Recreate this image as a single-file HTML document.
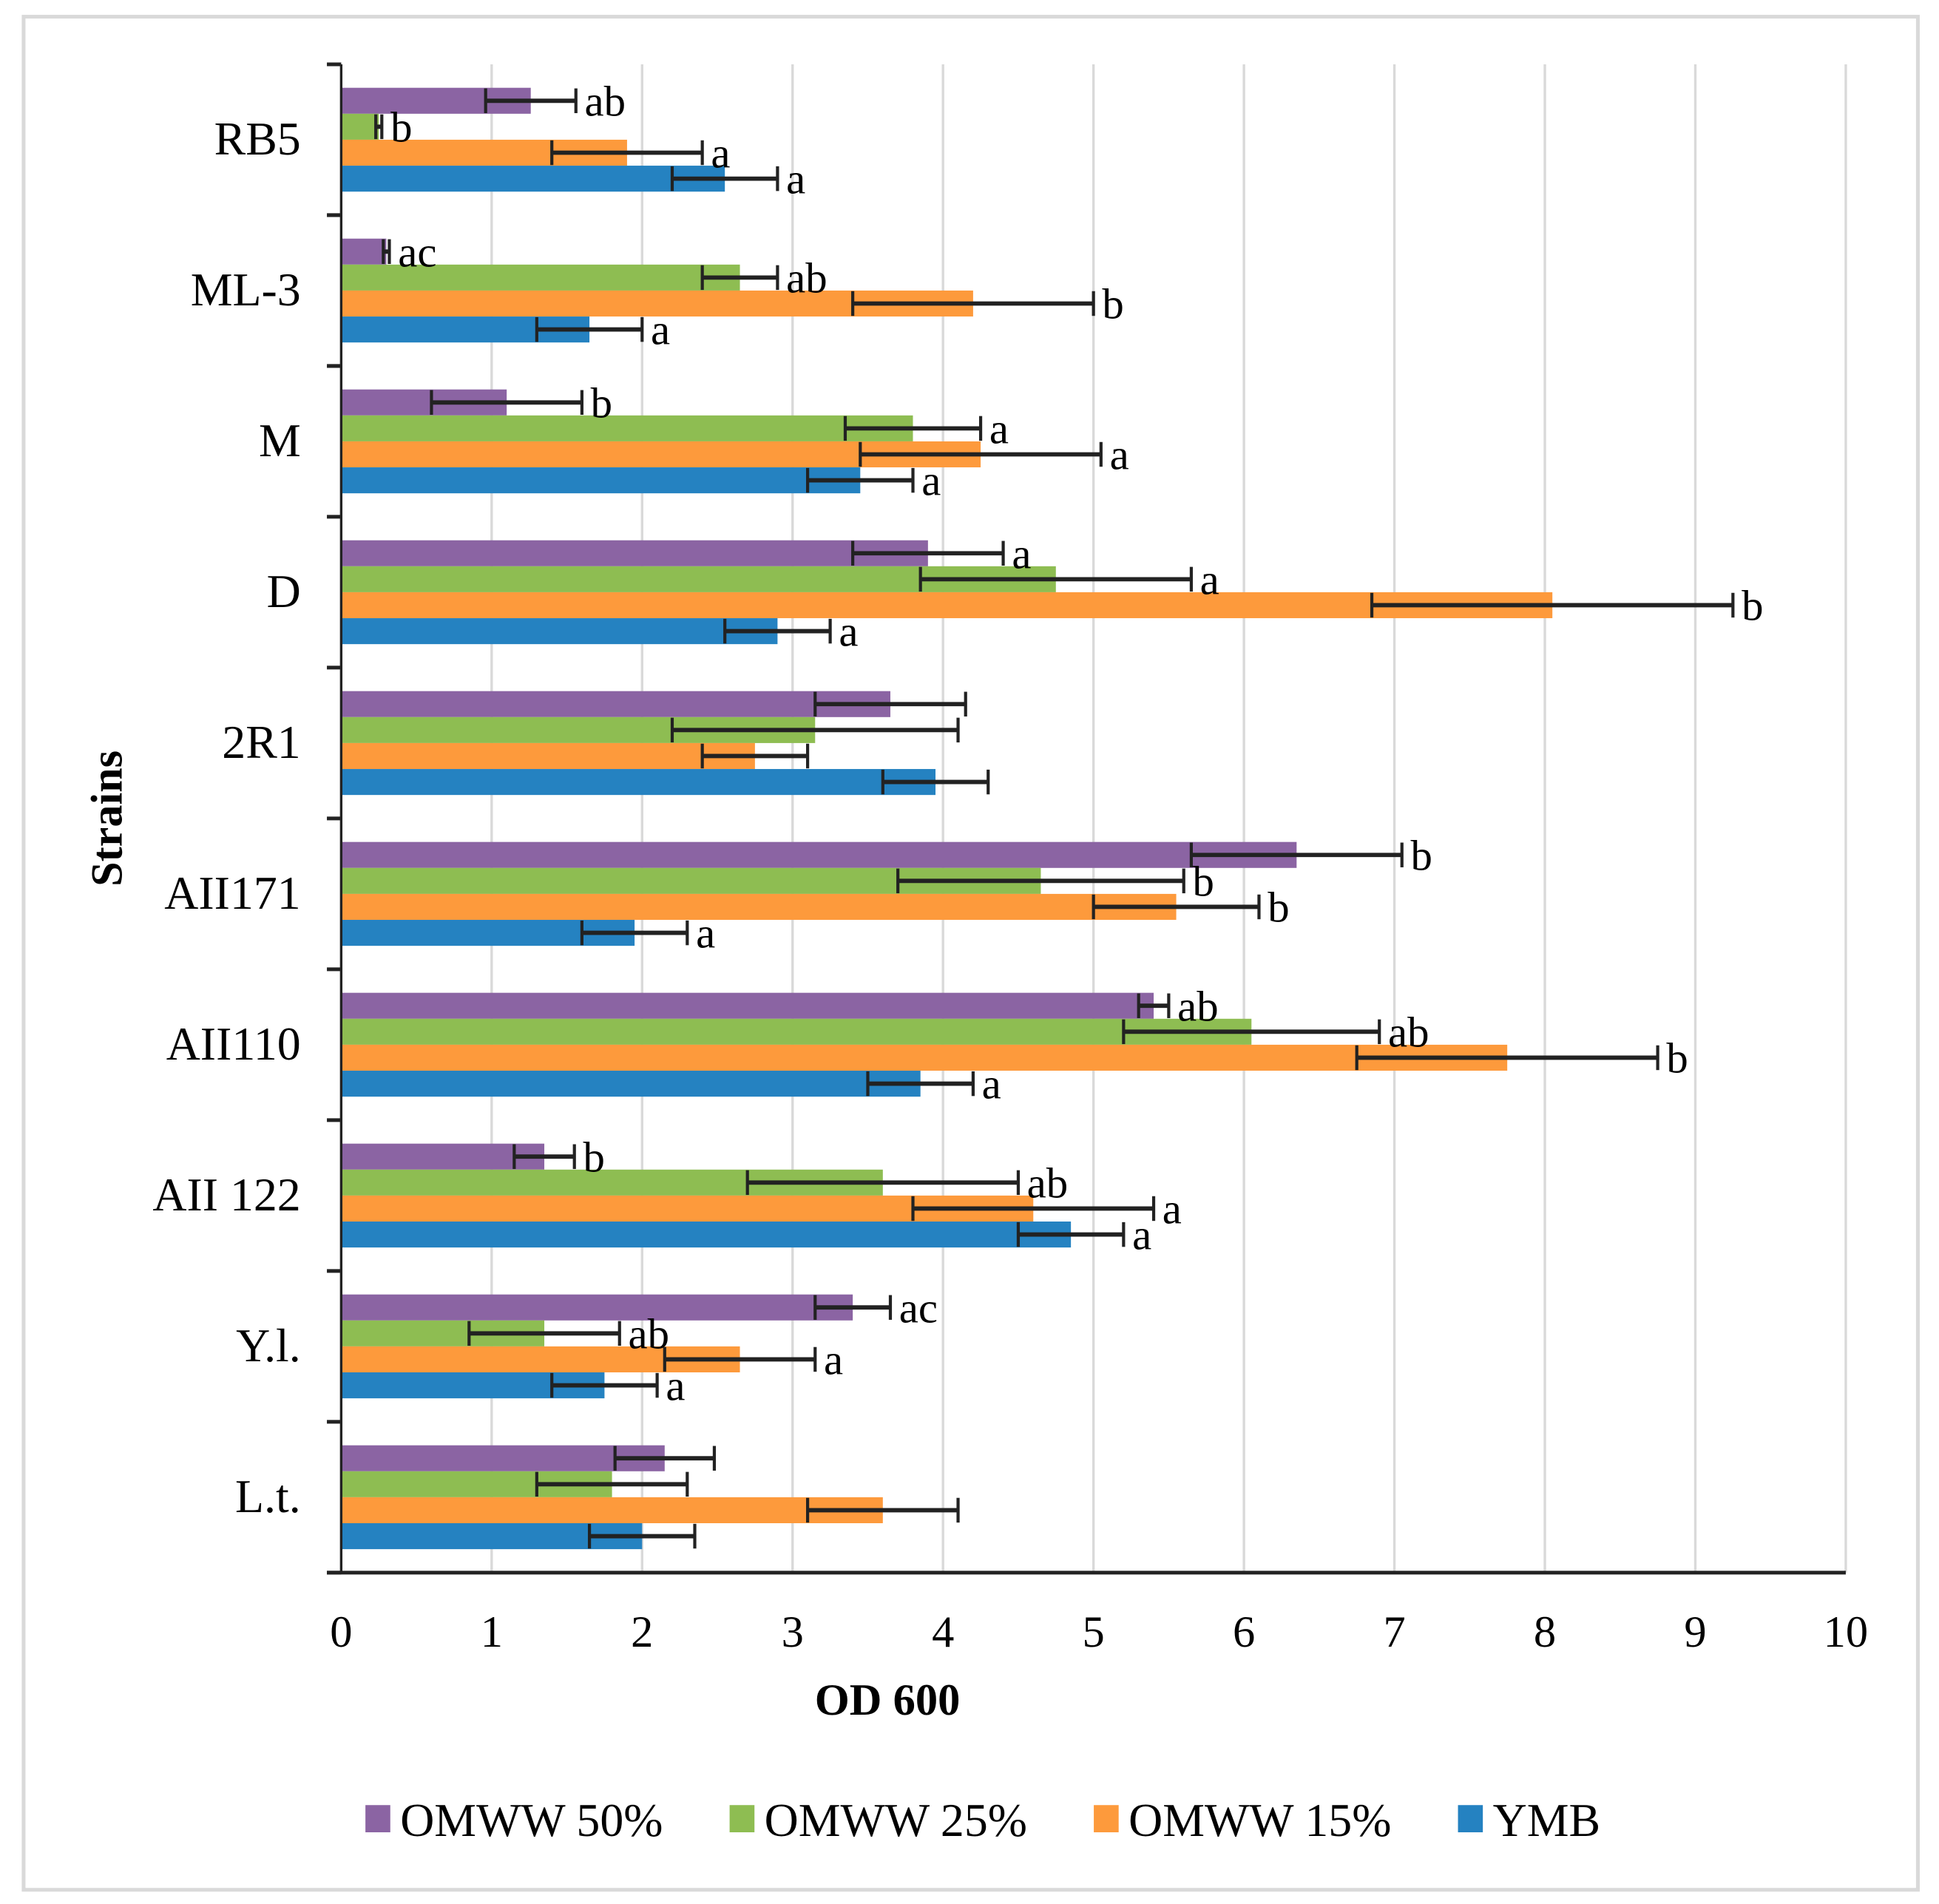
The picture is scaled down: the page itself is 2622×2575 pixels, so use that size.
<!DOCTYPE html>
<html><head><meta charset="utf-8"><style>
html,body{margin:0;padding:0;background:#fff}
svg{display:block}
text{font-family:"Liberation Serif",serif;fill:#000}
</style></head><body>
<svg id="chart" width="2622" height="2575" viewBox="0 0 1560 1540" preserveAspectRatio="none" xmlns="http://www.w3.org/2000/svg">
<rect x="19" y="13.5" width="1524" height="1515" fill="#fff" stroke="#d9d9d9" stroke-width="3"/>
<g id="grid"></g><g id="bars"></g><g id="axes"></g><g id="labels"></g>
<text x="714" y="1387" font-size="36" font-weight="bold" text-anchor="middle">OD 600</text>
<text transform="translate(98,662) rotate(-90)" font-size="36" font-weight="bold" text-anchor="middle">Strains</text>
<g id="legend"></g>
</svg>
<script>
const categories = ["RB5","ML-3","M","D","2R1","AII171","AII110","AII 122","Y.l.","L.t."];
const seriesNames = ["OMWW 50%","OMWW 25%","OMWW 15%","YMB"];
const colors = ["#8b64a3","#8ebd52","#fd9a3c","#2582c1"];
const omww50 = [1.26,0.3,1.1,3.9,3.65,6.35,5.4,1.35,3.4,2.15];
const omww50Err = [0.3,0.02,0.5,0.5,0.5,0.7,0.1,0.2,0.25,0.33];
const omww25 = [0.25,2.65,3.8,4.75,3.15,4.65,6.05,3.6,1.35,1.8];
const omww25Err = [0.02,0.25,0.45,0.9,0.95,0.95,0.85,0.9,0.5,0.5];
const omww15 = [1.9,4.2,4.25,8.05,2.75,5.55,7.75,4.6,2.65,3.6];
const omww15Err = [0.5,0.8,0.8,1.2,0.35,0.55,1.0,0.8,0.5,0.5];
const ymb = [2.55,1.65,3.45,2.9,3.95,1.95,3.85,4.85,1.75,2.0];
const ymbErr = [0.35,0.35,0.35,0.35,0.35,0.35,0.35,0.35,0.35,0.35];
const letters50 = ["ab","ac","b","a","","b","ab","b","ac",""];
const letters25 = ["b","ab","a","a","","b","ab","ab","ab",""];
const letters15 = ["a","b","a","b","","b","b","a","a",""];
const lettersYmb = ["a","a","a","a","","a","a","a","a",""];
const xTicks = [0,1,2,3,4,5,6,7,8,9,10];

const NS="http://www.w3.org/2000/svg";
const X0=274.5,X1=1485,Y0=52,Y1=1272,xMax=10;
const band=(Y1-Y0)/categories.length, barH=21, pad=(band-4*barH)/2;
const xs=v=>X0+(X1-X0)*v/xMax;
function mk(tag,attrs,parent){const e=document.createElementNS(NS,tag);for(const k in attrs)e.setAttribute(k,attrs[k]);parent.appendChild(e);return e;}
const g=id=>document.getElementById(id);
xTicks.forEach(t=>{
  if(t>0){const l=mk('line',{x1:xs(t),x2:xs(t),y1:Y0,y2:Y1,stroke:'#d9d9d9','stroke-width':2},g('grid'));
  
  }
  const tx=mk('text',{x:xs(t),y:1332,'font-size':36,'text-anchor':'middle'},g('axes'));
  tx.textContent=t;
  
  
});
const vals=[omww50,omww25,omww15,ymb], errs=[omww50Err,omww25Err,omww15Err,ymbErr], lets=[letters50,letters25,letters15,lettersYmb];
categories.forEach((c,i)=>{
  const top=Y0+i*band;
  const cl=mk('text',{x:242,y:top+band/2+12,'font-size':38,'text-anchor':'end'},g('axes'));
  cl.textContent=c;
  
  
  for(let s=0;s<4;s++){
    const y=top+pad+s*barH, v=vals[s][i], e=errs[s][i], cy=y+barH/2;
    const r=mk('rect',{x:X0,y:y,width:xs(v)-X0,height:barH,fill:colors[s]},g('bars'));
    
    
    const eg=mk('g',{stroke:'#222','stroke-width':3.5},g('bars'));
    
    
    mk('line',{x1:xs(v-e),x2:xs(v+e),y1:cy,y2:cy},eg);
    mk('line',{x1:xs(v-e),x2:xs(v-e),y1:cy-10,y2:cy+10,'stroke-width':2.5},eg);
    mk('line',{x1:xs(v+e),x2:xs(v+e),y1:cy-10,y2:cy+10,'stroke-width':2.5},eg);
    if(lets[s][i]){
      const lt=mk('text',{x:xs(v+e)+7,y:cy+12,'font-size':35},g('labels'));
      lt.textContent=lets[s][i];
      
      
    }
  }
});
for(let i=0;i<=categories.length;i++){
  const y=Y0+i*band;
  mk('line',{x1:263,x2:X0,y1:y,y2:y,stroke:'#222','stroke-width':3},g('axes'));
}
const ya=mk('line',{x1:X0,x2:X0,y1:Y0,y2:Y1,stroke:'#222','stroke-width':2},g('axes'));


const xa=mk('line',{x1:263,x2:X1,y1:Y1,y2:Y1,stroke:'#222','stroke-width':3},g('axes'));


const lx=[294,587,880,1173];
seriesNames.forEach((n,s)=>{
  const eg=mk('g',{},g('legend'));
  
  
  mk('rect',{x:lx[s],y:1460,width:20,height:22,fill:colors[s]},eg);
  const t=mk('text',{x:lx[s]+28,y:1485,'font-size':38},eg);
  t.textContent=n;
});
</script>
</body></html>
